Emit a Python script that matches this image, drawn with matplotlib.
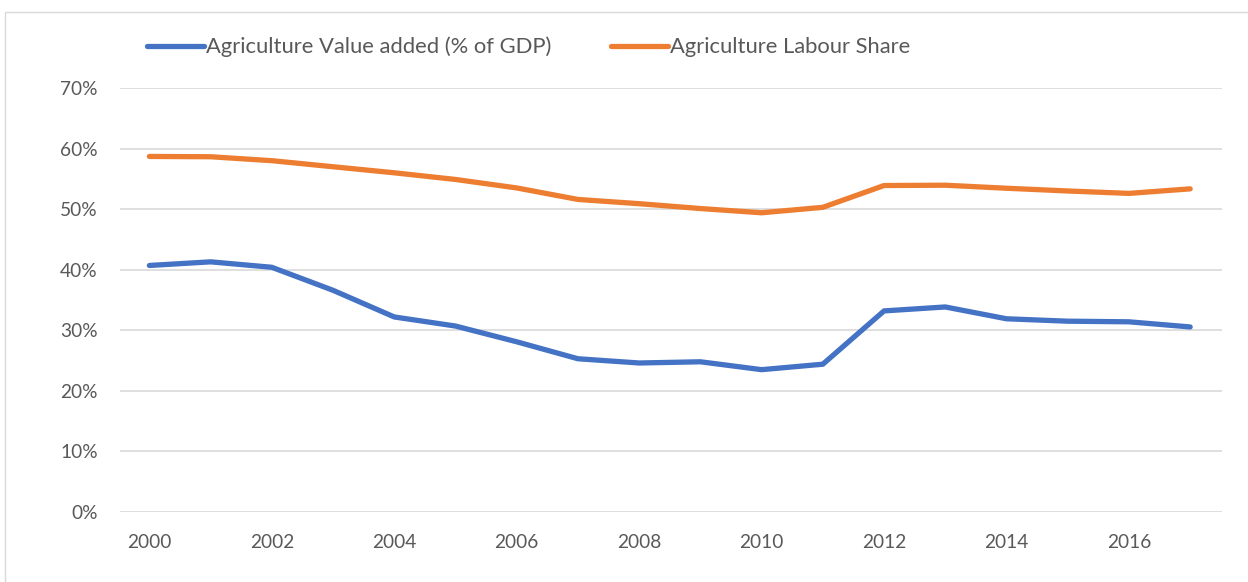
import matplotlib
matplotlib.use("Agg")
import matplotlib.pyplot as plt
from matplotlib.patches import Rectangle
from matplotlib.ticker import FuncFormatter, MultipleLocator

years = list(range(2000, 2018))
value_added = [40.7, 41.3, 40.4, 36.6, 32.2, 30.7, 28.1, 25.3, 24.6, 24.8,
               23.5, 24.4, 33.2, 33.85, 31.9, 31.5, 31.4, 30.55]
labour_share = [58.7, 58.65, 58.0, 57.0, 56.0, 54.9, 53.5, 51.6, 50.9, 50.1,
                49.4, 50.3, 53.9, 53.95, 53.45, 53.0, 52.6, 53.35]
series_names = ["Agriculture Value added (% of GDP)", "Agriculture Labour Share"]
xtick_years = list(range(2000, 2017, 2))

plt.rcParams['font.family'] = ['Lato', 'DejaVu Sans']
txt = '#595959'

fig = plt.figure(figsize=(12.48, 5.82), dpi=100)
fig.patches.append(Rectangle((5/1248, -0.1), 1.1, 1 - 12/582 + 0.1,
                             transform=fig.transFigure, fill=False,
                             edgecolor='#D9D9D9', linewidth=1.0))
ax = fig.add_axes([120/1248, 70/582, 1102/1248, 424/582])

l1, = ax.plot(years, value_added, color='#4472C4', linewidth=3.8,
              solid_capstyle='round', solid_joinstyle='round', label=series_names[0])
l2, = ax.plot(years, labour_share, color='#ED7D31', linewidth=3.8,
              solid_capstyle='round', solid_joinstyle='round', label=series_names[1])

ax.set_xlim(1999.52, 2017.52)
ax.set_ylim(0, 70)
ax.yaxis.set_major_locator(MultipleLocator(10))
ax.yaxis.set_major_formatter(FuncFormatter(lambda v, p: f"{int(round(v))}%"))
ax.set_xticks(xtick_years)
ax.set_xticklabels([str(y) for y in xtick_years])
ax.grid(axis='y', color='#D9D9D9', linewidth=1.2)
ax.set_axisbelow(True)
for s in ax.spines.values():
    s.set_visible(False)
ax.tick_params(axis='both', length=0, labelsize=13.8, labelcolor=txt)
ax.tick_params(axis='y', pad=16)
ax.tick_params(axis='x', pad=16)

fig.legend(handles=[l1, l2], loc='center left', bbox_to_anchor=(147/1248, 1 - 47/582),
           ncol=2, frameon=False, fontsize=15.8, labelcolor=txt,
           handlelength=2.6, handletextpad=0.1, columnspacing=2.7,
           borderaxespad=0, borderpad=0)

fig.savefig("out.png", dpi=100, facecolor='white')
